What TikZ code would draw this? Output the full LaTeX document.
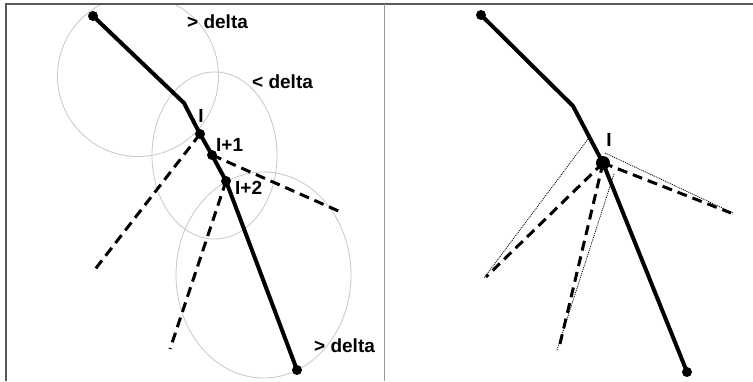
\documentclass[tikz,border=0pt]{standalone}
\usepackage{fontspec}
\setmainfont{Liberation Sans}
\begin{document}
\begin{tikzpicture}[x=1pt,y=-1pt,
  frameline/.style={draw=black!65,line width=1.5pt},
  sepline/.style={draw=black!40,line width=1pt},
  ring/.style={draw=black!22,line width=0.8pt},
  path/.style={line width=4pt,line join=round},
  dashline/.style={line width=3pt,dash pattern=on 10pt off 6pt},
  dotline/.style={line width=0.8pt,dash pattern=on 1pt off 1pt},
  pt/.style={circle,fill=black,inner sep=0pt,minimum size=10pt},
  bigpt/.style={circle,fill=black,inner sep=0pt,minimum size=14pt},
  lbl/.style={font=\bfseries\fontsize{19}{19}\selectfont,inner sep=0pt}]
\useasboundingbox (0,0) rectangle (753,381);
\begin{scope}
\clip (0,4) rectangle (753,381);
% left panel rings
\draw[ring] (138,76) ellipse [x radius=80.5, y radius=80.5];
\draw[ring] (214.5,155.5) ellipse [x radius=62.5, y radius=83.5];
\draw[ring] (263.5,275) ellipse [x radius=87.5, y radius=103];
\end{scope}
% frame
\draw[frameline] (6,381) -- (6,4) -- (753,4);
\draw[sepline] (384,4) -- (384,381);

% left panel
\node[pt] (s) at (93,16) {};
\coordinate (b) at (184,103);
\node[pt] (i) at (200,134) {};
\node[pt] (i1) at (212,155) {};
\node[pt] (i2) at (226,181) {};
\node[pt] (e) at (297,370) {};
\coordinate (d1) at (93,272);
\coordinate (d2) at (343,213);
\coordinate (d3) at (170,349);
\draw[dashline] (i.center) -- (d1);
\draw[dashline] (i1.center) -- (d2);
\draw[dashline] (i2.center) -- (d3);
\draw[path] (s.center) -- (b) -- (i.center) -- (i1.center) -- (i2.center) -- (e.center);
\node[lbl,anchor=west] (t1) at (187,22) {> delta};
\node[lbl,anchor=west] (t2) at (252,82) {< delta};
\node[lbl] (ti) at (201,116) {I};
\node[lbl,anchor=west] (ti1) at (216,145) {I+1};
\node[lbl,anchor=west] (ti2) at (235,188) {I+2};
\node[lbl,anchor=west] (t3) at (314,346) {> delta};

% right panel
\node[pt] (rs) at (481,15) {};
\coordinate (rb) at (573,106);
\node[bigpt] (ri) at (603,163) {};
\node[pt] (re) at (687,372) {};
\coordinate (r1) at (486,277);
\coordinate (r2) at (559,348);
\coordinate (r3) at (731,213);
\coordinate (q1) at (588,139);
\coordinate (q2) at (605,153);
\coordinate (q3) at (614,174);
\draw[dotline] (q1) -- (484,278);
\draw[dotline] (q2) -- (733,213);
\draw[dotline] (q3) -- (557,350);
\draw[dashline] (ri.center) -- (r1);
\draw[dashline] (ri.center) -- (r2);
\draw[dashline] (ri.center) -- (r3);
\draw[path] (rs.center) -- (rb) -- (ri.center) -- (re.center);
\node[lbl] (rti) at (609,140) {I};
\end{tikzpicture}
\end{document}
